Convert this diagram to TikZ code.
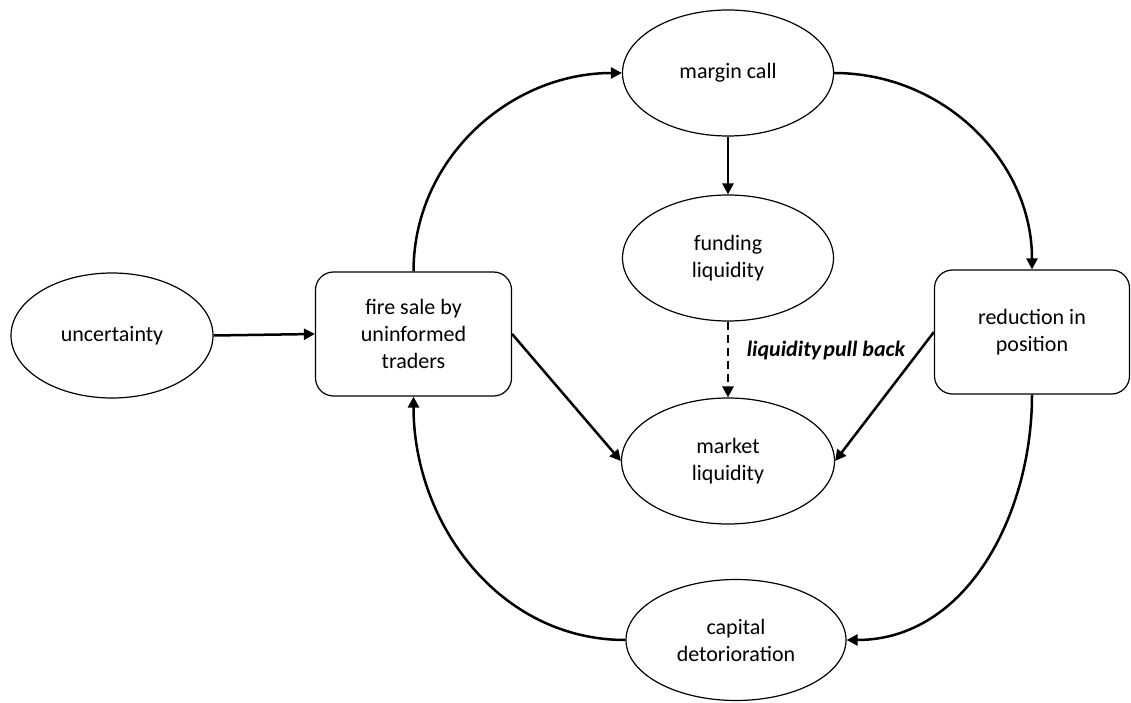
\documentclass[tikz,border=0pt]{standalone}
\usepackage{fontspec}
\setmainfont{Carlito}
\usetikzlibrary{shapes.geometric,arrows.meta}
\begin{document}
\begin{tikzpicture}[x=1pt,y=1pt,
  every node/.style={font=\fontsize{22}{27}\selectfont, align=center, inner sep=0pt},
  oval/.style={ellipse, draw, line width=1.2pt},
  box/.style={rectangle, draw, line width=1.2pt, rounded corners=18pt, minimum width=196pt, minimum height=124pt},
  conn/.style={line width=2.5pt, -{Triangle[length=11pt,width=11pt]}},
  lbl/.style={font=\fontsize{22}{27}\selectfont\bfseries\itshape}
]
\useasboundingbox (0,0) rectangle (1131,702);

\node[oval, minimum width=202pt, minimum height=125pt] (unc) at (112,366.5) {uncertainty};
\node[box] (fire) at (413.5,368) {fire sale by\\uninformed\\traders};
\node[oval, minimum width=211pt, minimum height=126pt] (margin) at (728,629) {margin call};
\node[oval, minimum width=211pt, minimum height=126pt] (funding) at (728,444) {funding\\liquidity};
\node[oval, minimum width=213pt, minimum height=126pt] (market) at (728,241) {market\\liquidity};
\node[oval, minimum width=220pt, minimum height=121pt] (capital) at (736,62) {capital\\detorioration};
\node[box, minimum width=195pt] (red) at (1032,370) {reduction in\\position};
\node[lbl] (pull) at (826,351) {liquidity\hspace{0.1em}pull back};

\draw[conn] (unc.east) -- (fire.west);
\draw[conn] (fire.north) to[out=90,in=180] (margin.west);
\draw[conn] (margin.east) to[out=0,in=90] (red.north);
\draw[conn] (red.south) to[out=-90,in=0] (capital.east);
\draw[conn] (capital.west) to[out=180,in=-90] (fire.south);
\draw[conn] (margin.south) -- (funding.north);
\draw[conn, dash pattern=on 8pt off 5pt] (funding.south) -- (market.north);
\draw[conn] (fire.east) -- (market.west);
\draw[conn] (red.west) -- (market.east);
\end{tikzpicture}
\end{document}
